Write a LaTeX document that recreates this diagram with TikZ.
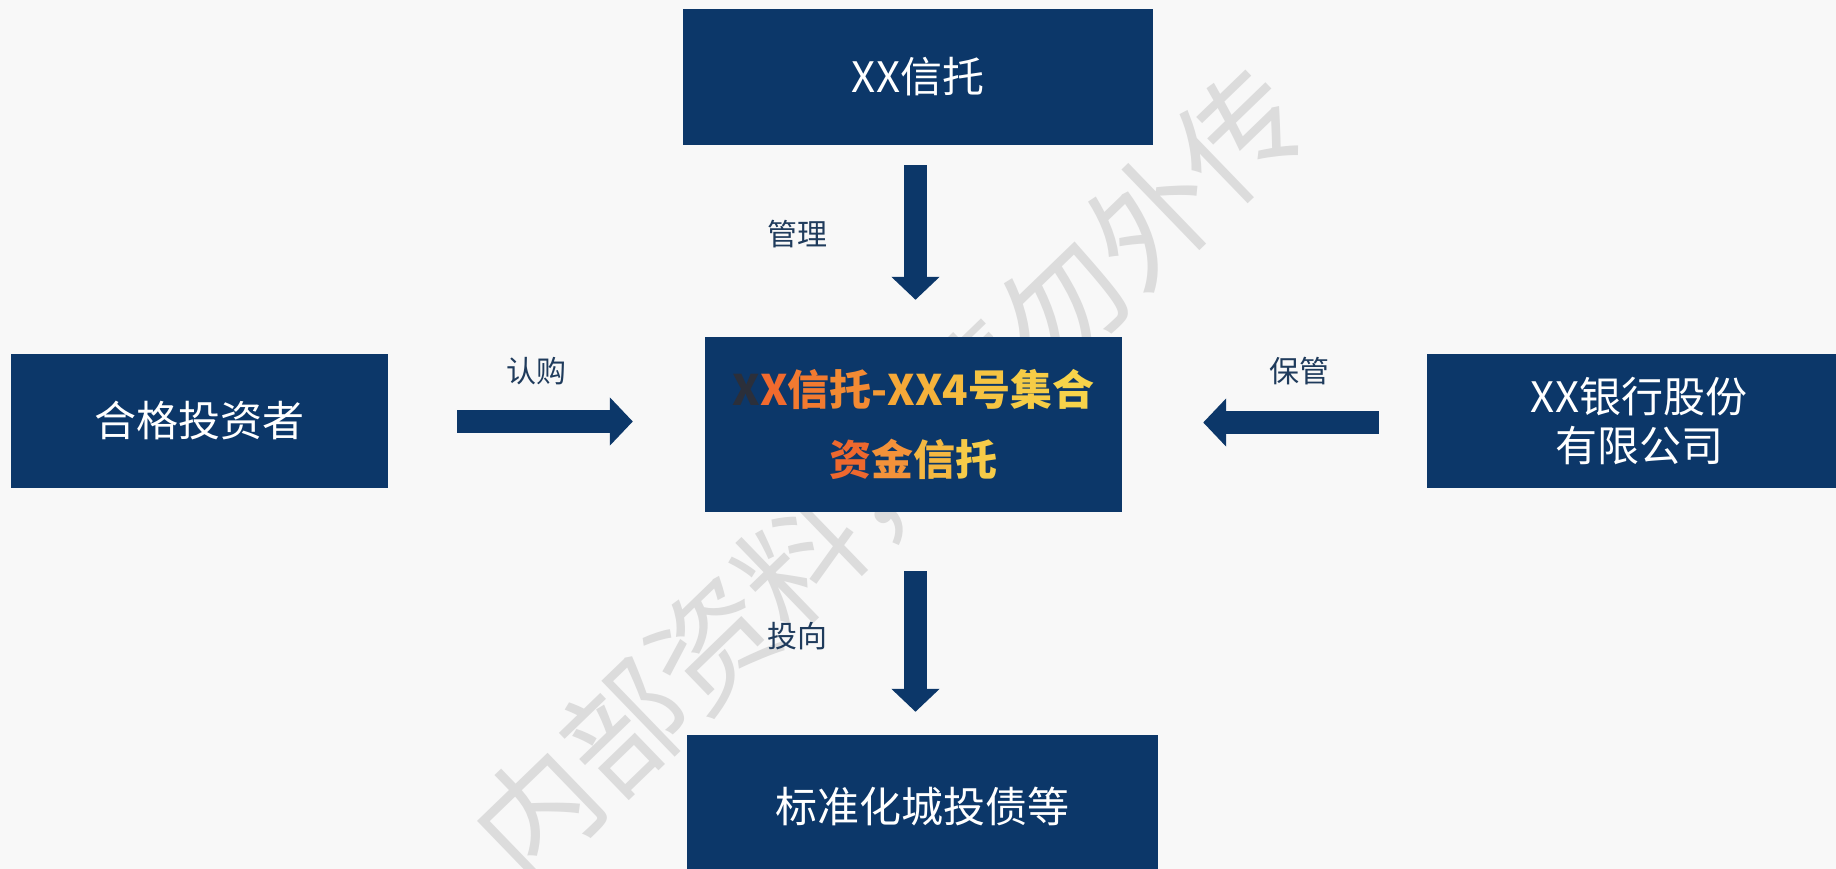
\documentclass[tikz,border=0pt]{standalone}
\usepackage{fontspec}
\newfontfamily\cjk{Noto Sans CJK SC}
\newfontfamily\cjkwide{Noto Sans CJK SC}[LetterSpace=3]
\usetikzlibrary{arrows.meta}
\definecolor{navy}{HTML}{0C3769}
\definecolor{bg}{HTML}{F8F8F8}
\definecolor{lbl}{HTML}{1F3B5C}
\definecolor{wmc}{HTML}{DCDCDC}
\definecolor{g0}{HTML}{2B2F3A}
\definecolor{g1}{HTML}{F06A2E}
\definecolor{g2}{HTML}{F27A30}
\definecolor{g3}{HTML}{F38A33}
\definecolor{g4}{HTML}{F49A36}
\definecolor{g5}{HTML}{F5A838}
\definecolor{g6}{HTML}{F5B23B}
\definecolor{g7}{HTML}{F6BC3F}
\definecolor{g8}{HTML}{F5C442}
\definecolor{g9}{HTML}{F6CC46}
\definecolor{g10}{HTML}{F7D34A}
\definecolor{h1}{HTML}{EE682E}
\definecolor{h2}{HTML}{F3923A}
\definecolor{h3}{HTML}{F5B841}
\definecolor{h4}{HTML}{F6CB48}
\begin{document}
\begin{tikzpicture}[x=1pt,y=-1pt,
  box/.style={fill=navy, text=white, font=\cjk\fontsize{42}{49}\selectfont, inner sep=0pt, align=center},
  lab/.style={text=lbl, font=\cjk\fontsize{30}{36}\selectfont, inner sep=0pt},
  blockarrow/.style={draw=navy, line width=23pt, -{Triangle[length=23pt,width=47pt]}}]
\clip (0,0) rectangle (1836,869);
\fill[bg] (0,0) rectangle (1836,869);
% watermark
\node[text=wmc, font=\cjk\fontsize{122}{122}\selectfont, rotate=44, inner sep=0pt] (wmk) at (889,475) {内部资料，请勿外传};
% boxes
\node[box, minimum width=470pt, minimum height=136pt] (trust) at (918,77) {XX信托};
\node[box, minimum width=377pt, minimum height=134pt] (investor) at (199.5,421) {合格投资者};
\node[box, minimum width=424pt, minimum height=134pt] (bank) at (1639,421) {XX银行股份\\有限公司};
\node[box, minimum width=471pt, minimum height=142pt] (target) at (922.5,806) {标准化城投债等};
\node[box, minimum width=417pt, minimum height=175pt, font=\cjkwide\bfseries\fontsize{42}{70}\selectfont] (center) at (913.5,424.5)
  {\textcolor{g0}{X}\textcolor{g1}{X}\textcolor{g2}{信}\textcolor{g3}{托}\textcolor{g4}{-}\textcolor{g5}{X}\textcolor{g6}{X}\textcolor{g7}{4}\textcolor{g8}{号}\textcolor{g9}{集}\textcolor{g10}{合}\\
   \textcolor{h1}{资}\textcolor{h2}{金}\textcolor{h3}{信}\textcolor{h4}{托}};
% arrows
\draw[blockarrow] ([xshift=-2.5pt,yshift=-20pt]trust.south) -- ([xshift=2pt,yshift=37pt]center.north);
\draw[blockarrow] ([xshift=69pt,yshift=-0.5pt]investor.east) -- ([xshift=-72pt,yshift=3pt]center.west);
\draw[blockarrow] ([xshift=-48pt,yshift=-1.5pt]bank.west) -- ([xshift=81pt,yshift=2pt]center.east);
\draw[blockarrow] ([xshift=2pt,yshift=-59pt]center.south) -- ([xshift=-7pt,yshift=23pt]target.north);
% labels
\node[lab] (l1) at (797,234) {管理};
\node[lab] (l2) at (536,371) {认购};
\node[lab] (l3) at (1299,371) {保管};
\node[lab] (l4) at (797,636) {投向};
\end{tikzpicture}
\end{document}
